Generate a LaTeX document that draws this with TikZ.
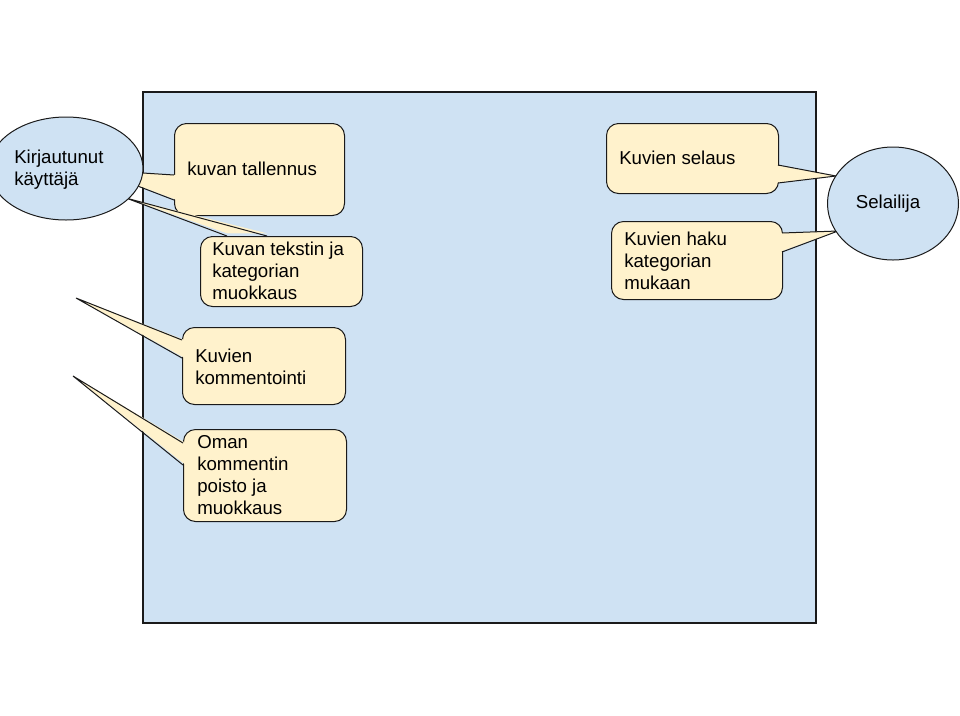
\documentclass[tikz,border=0pt]{standalone}
\usepackage{fontspec}
\setmainfont{Liberation Sans}
\usetikzlibrary{shapes.geometric}
\definecolor{areablue}{HTML}{CFE2F3}
\definecolor{noteyellow}{HTML}{FFF2CC}
\definecolor{edge}{HTML}{1A1A1A}
\begin{document}
\begin{tikzpicture}[x=0.75pt,y=-0.75pt,
  txt/.style={font=\fontsize{14}{16.5}\selectfont, text=black},
  area/.style={draw=edge, fill=areablue, line width=0.9pt},
  note/.style={draw=edge, fill=noteyellow, line width=0.75pt, rounded corners=9pt,
    rectangle, inner sep=0pt, anchor=north west, txt, align=left},
  tailfill/.style={fill=noteyellow, draw=none},
  tailline/.style={draw=edge, line width=0.75pt, line join=miter},
  actor/.style={ellipse, draw=edge, fill=areablue, line width=0.75pt, inner sep=0pt}
]
\useasboundingbox (0,0) rectangle (960,715);
\clip (0,0) rectangle (960,715);
\fill[white] (0,0) rectangle (960,715);

% system boundary
\draw[area] (143,92) rectangle (816,623);

% callout boxes
\node[note, minimum width=170*0.75pt, minimum height=92*0.75pt] (save) at (174,123) {};
\node[note, minimum width=162*0.75pt, minimum height=70*0.75pt] (edit) at (200,236) {};
\node[note, minimum width=163*0.75pt, minimum height=77*0.75pt] (comment) at (182,327) {};
\node[note, minimum width=163*0.75pt, minimum height=92*0.75pt] (owncomment) at (183,429) {};
\node[note, minimum width=172*0.75pt, minimum height=70*0.75pt] (browse) at (606,123) {};
\node[note, minimum width=171*0.75pt, minimum height=78*0.75pt] (search) at (611,221) {};

% callout tails: tip and the two base points on the box edge
\coordinate (t1) at (96,170);  \coordinate (a1) at (174,175); \coordinate (b1) at (174,200);
\coordinate (t2) at (126,198); \coordinate (a2) at (227,236); \coordinate (b2) at (267,236);
\coordinate (t3) at (76,298);  \coordinate (a3) at (182,340); \coordinate (b3) at (182,358);
\coordinate (t4) at (73,376);  \coordinate (a4) at (183,443); \coordinate (b4) at (183,465);
\coordinate (t5) at (836,176); \coordinate (a5) at (778,165); \coordinate (b5) at (778,183);
\coordinate (t6) at (838,231); \coordinate (a6) at (782,233); \coordinate (b6) at (782,252);

\fill[tailfill] (t1) -- ([xshift=2]a1) -- ([xshift=2]b1) -- cycle;
\fill[tailfill] (t2) -- ([yshift=2]a2) -- ([yshift=2]b2) -- cycle;
\fill[tailfill] (t3) -- ([xshift=2]a3) -- ([xshift=2]b3) -- cycle;
\fill[tailfill] (t4) -- ([xshift=2]a4) -- ([xshift=2]b4) -- cycle;
\fill[tailfill] (t5) -- ([xshift=-2]a5) -- ([xshift=-2]b5) -- cycle;
\fill[tailfill] (t6) -- ([xshift=-2]a6) -- ([xshift=-2]b6) -- cycle;

\draw[tailline] (a1) -- (t1) -- (b1);
\draw[tailline] (a2) -- (t2) -- (b2);
\draw[tailline] (a3) -- (t3) -- (b3);
\draw[tailline] (a4) -- (t4) -- (b4);
\draw[tailline] (a5) -- (t5) -- (b5);
\draw[tailline] (a6) -- (t6) -- (b6);

% callout texts
\node[txt, anchor=west, align=left, inner sep=0pt] (saveT) at (187,169) {kuvan tallennus};
\node[txt, anchor=west, align=left, inner sep=0pt] (editT) at (212,271) {Kuvan tekstin ja\\kategorian\\muokkaus};
\node[txt, anchor=west, align=left, inner sep=0pt] (commentT) at (195,366.5) {Kuvien\\kommentointi};
\node[txt, anchor=west, align=left, inner sep=0pt] (owncommentT) at (197,475.5) {Oman\\kommentin\\poisto ja\\muokkaus};
\node[txt, anchor=west, align=left, inner sep=0pt] (browseT) at (619,158) {Kuvien selaus};
\node[txt, anchor=west, align=left, inner sep=0pt] (searchT) at (624,261) {Kuvien haku\\kategorian\\mukaan};

% actors
\node[actor, minimum width=154*0.75pt, minimum height=103*0.75pt] (user) at (66,168.5) {};
\node[txt, anchor=west, align=left, inner sep=0pt] (userT) at (14,169.5) {Kirjautunut\\käyttäjä};
\node[actor, minimum width=131*0.75pt, minimum height=113*0.75pt] (guest) at (893,203.5) {};
\node[txt, inner sep=0pt] (guestT) at (888,204) {Selailija};
\end{tikzpicture}
\end{document}
